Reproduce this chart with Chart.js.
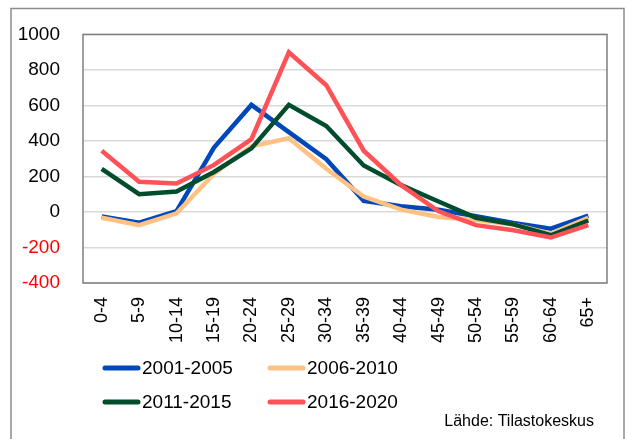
<!DOCTYPE html>
<html>
<head>
<meta charset="utf-8">
<script src="https://cdn.jsdelivr.net/npm/chart.js@4.4.1/dist/chart.umd.min.js"></script>
<style>
  html, body { margin: 0; padding: 0; background: #fff; }
  #wrap { width: 627px; height: 439px; position: relative; }
</style>
</head>
<body>
<div id="wrap"><canvas id="muutto" width="627" height="439"></canvas></div>
<script>
// age groups on the x axis
const ageGroups = ['0-4', '5-9', '10-14', '15-19', '20-24', '25-29', '30-34',
  '35-39', '40-44', '45-49', '50-54', '55-59', '60-64', '65+'];

// net migration per period
const p2001_2005 = [-25, -60, 5, 363, 603, 450, 297, 63, 32, 13, -24, -62, -94, -20];
const p2006_2010 = [-33, -74, -8, 215, 370, 415, 243, 87, 13, -28, -45, -70, -122, -33];
const p2011_2015 = [243, 100, 115, 225, 358, 603, 484, 262, 151, 59, -33, -70, -131, -48];
const p2016_2020 = [345, 170, 160, 265, 410, 899, 714, 345, 151, 4, -74, -103, -144, -74];

const seriesLabels = ['2001-2005', '2006-2010', '2011-2015', '2016-2020'];
const seriesColors = ['#0048BA', '#FFC284', '#004D2E', '#FF5258'];

const yMin = -400, yMax = 1000, yStep = 200;
const sourceText = 'Lähde: Tilastokeskus';

const FONT = '"Liberation Sans", Arial, sans-serif';
Chart.defaults.font.family = FONT;
Chart.defaults.color = '#000';

// frame, plot border, legend and source note
const decorations = {
  id: 'decorations',
  beforeDraw(chart) {
    const c = chart.ctx;
    c.save();
    c.strokeStyle = '#8c8c8c';
    c.lineWidth = 1.5;
    c.strokeRect(11, 8.5, 613, 445);
    c.restore();
  },
  afterDraw(chart) {
    const c = chart.ctx;
    const a = chart.chartArea;
    c.save();
    c.strokeStyle = '#7f7f7f';
    c.lineWidth = 1.5;
    c.strokeRect(a.left, a.top, a.right - a.left, a.bottom - a.top);

    // legend, 2 x 2
    const colX = [103, 268];
    const rowY = [368, 402];
    c.font = '19px ' + FONT;
    c.textBaseline = 'middle';
    c.textAlign = 'left';
    chart.data.datasets.forEach((ds, i) => {
      const x = colX[i % 2];
      const y = rowY[Math.floor(i / 2)];
      c.strokeStyle = ds.borderColor;
      c.lineWidth = 5;
      c.lineCap = 'round';
      c.beginPath();
      c.moveTo(x + 2, y);
      c.lineTo(x + 35, y);
      c.stroke();
      c.fillStyle = '#000';
      c.fillText(ds.label, x + 39, y + 1);
    });

    c.font = '16px ' + FONT;
    c.textAlign = 'right';
    c.fillText(sourceText, 594, 422);
    c.restore();
  }
};

const dataSets = [p2001_2005, p2006_2010, p2011_2015, p2016_2020].map((vals, i) => ({
  label: seriesLabels[i],
  data: vals,
  borderColor: seriesColors[i],
  backgroundColor: seriesColors[i],
  borderWidth: 4.5,
  pointRadius: 0,
  tension: 0,
  fill: false,
  order: 3 - i
}));

new Chart(document.getElementById('muutto').getContext('2d'), {
  type: 'line',
  data: { labels: ageGroups, datasets: dataSets },
  options: {
    responsive: false,
    animation: false,
    layout: { padding: { top: 30, right: 20, left: 0, bottom: 0 } },
    plugins: {
      legend: { display: false },
      tooltip: { enabled: false }
    },
    scales: {
      x: {
        offset: true,
        afterFit(scale) { scale.height = 156; },
        grid: { display: false, drawTicks: false },
        border: { display: false },
        ticks: {
          autoSkip: false,
          minRotation: 90,
          maxRotation: 90,
          padding: 14,
          font: { size: 18 },
          color: '#000'
        }
      },
      y: {
        min: yMin,
        max: yMax,
        afterFit(scale) { scale.width = 83; },
        grid: { color: '#d9d9d9', lineWidth: 1.5, drawTicks: false },
        border: { display: false },
        ticks: {
          stepSize: yStep,
          padding: 23,
          font: { size: 19 },
          callback: value => String(value),
          color: ctx => (ctx.tick && ctx.tick.value < 0 ? '#ff0000' : '#000')
        }
      }
    }
  },
  plugins: [decorations]
});
</script>
</body>
</html>
